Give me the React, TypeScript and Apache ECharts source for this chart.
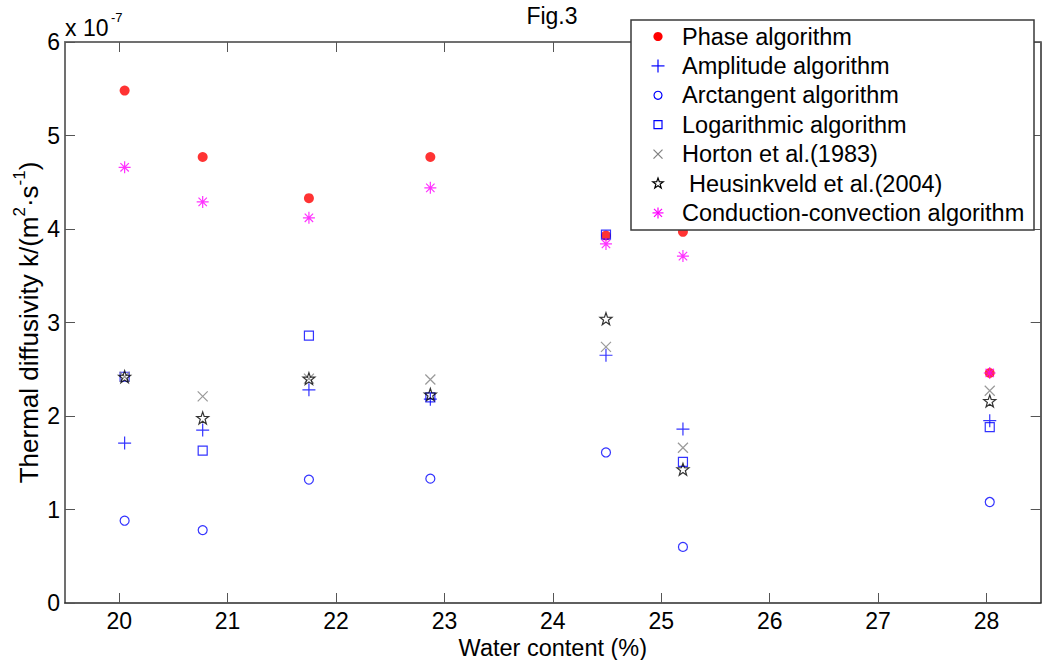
import React, { useEffect, useRef } from "react";
import * as echarts from "echarts";

// ---- data (values in units of 1e-7 m^2/s) ----
const xValues = [20.05, 20.77, 21.75, 22.87, 24.49, 25.2, 28.03];
const phase = [5.48, 4.77, 4.33, 4.77, 3.93, 3.97, 2.46];
const amplitude = [1.71, 1.85, 2.28, 2.18, 2.65, 1.86, 1.95];
const arctangent = [0.88, 0.78, 1.32, 1.33, 1.61, 0.6, 1.08];
const logarithmic = [2.42, 1.63, 2.86, 2.2, 3.94, 1.51, 1.88];
const horton = [2.42, 2.21, 2.4, 2.39, 2.74, 1.66, 2.27];
const heusinkveld = [2.42, 1.98, 2.4, 2.23, 3.04, 1.43, 2.16];
const conduction = [4.66, 4.29, 4.12, 4.44, 3.84, 3.71, 2.46];

const xTicks = [20, 21, 22, 23, 24, 25, 26, 27, 28];
const yTicks = [0, 1, 2, 3, 4, 5, 6];

const seriesNames = [
  "Phase algorithm",
  "Amplitude algorithm",
  "Arctangent algorithm",
  "Logarithmic algorithm",
  "Horton et al.(1983)",
  "Heusinkveld et al.(2004)",
  "Conduction-convection algorithm",
];
const seriesValues = [phase, amplitude, arctangent, logarithmic, horton, heusinkveld, conduction];

const FONT = "'Liberation Sans', Arial, sans-serif";
const BLUE = "#0000ff";

// ---- marker geometry ----
function starPoints(cx: number, cy: number, R: number, r: number): number[][] {
  const pts: number[][] = [];
  for (let k = 0; k < 10; k++) {
    const a = -Math.PI / 2 + (k * Math.PI) / 5;
    const rad = k % 2 === 0 ? R : r;
    pts.push([cx + rad * Math.cos(a), cy + rad * Math.sin(a)]);
  }
  return pts;
}
const starPath =
  "path://" +
  starPoints(10, 10, 10, 4)
    .map((p, i) => (i === 0 ? "M" : "L") + p[0].toFixed(3) + "," + p[1].toFixed(3))
    .join(" ") +
  " Z";
const plusPath = "path://M5,0 L5,10 M0,5 L10,5";
const crossPath = "path://M0,0 L10,10 M0,10 L10,0";
const asteriskPath = "path://M5,0 L5,10 M0,5 L10,5 M1.5,1.5 L8.5,8.5 M1.5,8.5 L8.5,1.5";

type Kind = "dot" | "plus" | "circle" | "square" | "cross" | "star" | "asterisk";
const kinds: Kind[] = ["dot", "plus", "circle", "square", "cross", "star", "asterisk"];
const colors = ["#ff0000", BLUE, BLUE, BLUE, "#808080", "#000000", "#ff00ff"];

function seriesStyle(kind: Kind, color: string) {
  switch (kind) {
    case "dot":
      return { symbol: "circle", symbolSize: 10, itemStyle: { color, borderWidth: 0 } };
    case "plus":
      return { symbol: plusPath, symbolSize: 13, itemStyle: { color: "none", borderColor: color, borderWidth: 1.2 } };
    case "circle":
      return { symbol: "circle", symbolSize: 9, itemStyle: { color: "none", borderColor: color, borderWidth: 1.2 } };
    case "square":
      return { symbol: "rect", symbolSize: 9, itemStyle: { color: "none", borderColor: color, borderWidth: 1.2 } };
    case "cross":
      return { symbol: crossPath, symbolSize: 10, itemStyle: { color: "none", borderColor: color, borderWidth: 1.2 } };
    case "star":
      return { symbol: starPath, symbolSize: 12, itemStyle: { color: "none", borderColor: color, borderWidth: 1.2 } };
    default:
      return { symbol: asteriskPath, symbolSize: 12, itemStyle: { color: "none", borderColor: color, borderWidth: 1.2 } };
  }
}

function legendMarker(kind: Kind, color: string, cx: number, cy: number): any[] {
  const st = { stroke: color, lineWidth: 1.2, fill: "none" };
  switch (kind) {
    case "dot":
      return [{ type: "circle", shape: { cx, cy, r: 4.6 }, style: { fill: color } }];
    case "plus":
      return [
        { type: "line", shape: { x1: cx - 6.5, y1: cy, x2: cx + 6.5, y2: cy }, style: st },
        { type: "line", shape: { x1: cx, y1: cy - 6.5, x2: cx, y2: cy + 6.5 }, style: st },
      ];
    case "circle":
      return [{ type: "circle", shape: { cx, cy, r: 4 }, style: st }];
    case "square":
      return [{ type: "rect", shape: { x: cx - 4, y: cy - 4, width: 8, height: 8 }, style: st }];
    case "cross":
      return [
        { type: "line", shape: { x1: cx - 4.5, y1: cy - 4.5, x2: cx + 4.5, y2: cy + 4.5 }, style: st },
        { type: "line", shape: { x1: cx - 4.5, y1: cy + 4.5, x2: cx + 4.5, y2: cy - 4.5 }, style: st },
      ];
    case "star":
      return [{ type: "polygon", shape: { points: starPoints(cx, cy, 5.5, 2.2) }, style: st }];
    default:
      return [
        { type: "line", shape: { x1: cx - 5.5, y1: cy, x2: cx + 5.5, y2: cy }, style: st },
        { type: "line", shape: { x1: cx, y1: cy - 5.5, x2: cx, y2: cy + 5.5 }, style: st },
        { type: "line", shape: { x1: cx - 4, y1: cy - 4, x2: cx + 4, y2: cy + 4 }, style: st },
        { type: "line", shape: { x1: cx - 4, y1: cy + 4, x2: cx + 4, y2: cy - 4 }, style: st },
      ];
  }
}

export default function App() {
  const ref = useRef<HTMLDivElement>(null);

  useEffect(() => {
    if (!ref.current) return;
    const chart = echarts.init(ref.current, undefined, { renderer: "svg" });

    const legendChildren: any[] = [
      {
        type: "rect",
        z: 100,
        shape: { x: 631, y: 20, width: 403, height: 210 },
        style: { fill: "#ffffff", stroke: "#3a3a3a", lineWidth: 1.5 },
      },
    ];
    seriesNames.forEach((name, i) => {
      const cy = 36.5 + i * 29.4;
      legendMarker(kinds[i], colors[i], 658, cy).forEach((el) => legendChildren.push({ ...el, z: 101 }));
      legendChildren.push({
        type: "text",
        z: 101,
        style: {
          text: name,
          x: i === 5 ? 689 : 682,
          y: cy,
          fill: "#000",
          font: `23.5px ${FONT}`,
          textAlign: "left",
          textVerticalAlign: "middle",
        },
      });
    });

    const axisLineDark = { lineStyle: { color: "#2a2a2a", width: 1.5 } };
    const axisLineGray = { lineStyle: { color: "#707070", width: 2 } };

    chart.setOption({
      animation: false,
      backgroundColor: "#ffffff",
      grid: { left: 65, right: 1.3, top: 42, bottom: 57, containLabel: false, outerBoundsMode: "none" },
      xAxis: [
        {
          type: "value",
          position: "bottom",
          min: 19.5,
          max: 28.5,
          name: "Water content (%)",
          nameLocation: "middle",
          nameGap: 33,
          nameMoveOverlap: false,
          nameTextStyle: { fontFamily: FONT, fontSize: 23.5, lineHeight: 24, color: "#000" },
          axisLine: { show: true, onZero: false, ...axisLineDark },
          axisTick: { show: true, inside: true, length: 10, customValues: xTicks, lineStyle: { color: "#555", width: 1 } },
          axisLabel: { show: true, customValues: xTicks, margin: 6, fontFamily: FONT, fontSize: 23, color: "#000" },
          splitLine: { show: false },
        },
        {
          type: "value",
          position: "top",
          min: 19.5,
          max: 28.5,
          axisLine: { show: true, onZero: false, ...axisLineGray },
          axisTick: { show: true, inside: true, length: 10, customValues: xTicks, lineStyle: { color: "#555", width: 1 } },
          axisLabel: { show: false },
          splitLine: { show: false },
        },
      ],
      yAxis: [
        {
          type: "value",
          position: "left",
          min: 0,
          max: 6,
          interval: 1,
          name: "{a|Thermal diffusivity k/(m}{b|2}{a|·s}{b|-1}{a|)}",
          nameLocation: "middle",
          nameGap: 18,
          nameMoveOverlap: false,
          nameTextStyle: {
            rich: {
              a: { fontFamily: FONT, fontSize: 26, lineHeight: 36, color: "#000" },
              b: { fontFamily: FONT, fontSize: 17, lineHeight: 16, verticalAlign: "top", color: "#000" },
            },
          },
          axisLine: { show: true, onZero: false, ...axisLineGray },
          axisTick: { show: true, inside: true, length: 10, customValues: yTicks, lineStyle: { color: "#555", width: 1 } },
          axisLabel: { show: true, margin: 5, fontFamily: FONT, fontSize: 23, color: "#000" },
          splitLine: { show: false },
        },
        {
          type: "value",
          position: "right",
          min: 0,
          max: 6,
          interval: 1,
          axisLine: { show: true, onZero: false, ...axisLineDark },
          axisTick: { show: true, inside: true, length: 10, lineStyle: { color: "#555", width: 1 } },
          axisLabel: { show: false },
          splitLine: { show: false },
        },
      ],
      series: seriesNames.map((name, i) => ({
        name,
        type: "scatter",
        xAxisIndex: 0,
        yAxisIndex: 0,
        data: xValues.map((x, j) => [x, seriesValues[i][j]]),
        ...seriesStyle(kinds[i], colors[i]),
        emphasis: { disabled: true },
      })),
      graphic: [
        {
          type: "text",
          style: {
            text: "Fig.3",
            x: 552,
            y: 16,
            fill: "#000",
            font: `23px ${FONT}`,
            textAlign: "center",
            textVerticalAlign: "middle",
          },
        },
        {
          type: "text",
          style: {
            text: "x 10",
            x: 65,
            y: 28,
            fill: "#000",
            font: `23px ${FONT}`,
            textAlign: "left",
            textVerticalAlign: "middle",
          },
        },
        {
          type: "text",
          style: {
            text: "-7",
            x: 111,
            y: 17,
            fill: "#000",
            font: `13px ${FONT}`,
            textAlign: "left",
            textVerticalAlign: "middle",
          },
        },
        { type: "group", children: legendChildren },
      ],
    });

    return () => chart.dispose();
  }, []);

  return (
    <div
      ref={ref}
      style={{ position: "fixed", left: 0, top: 0, width: 1042, height: 660, background: "#fff" }}
    />
  );
}
